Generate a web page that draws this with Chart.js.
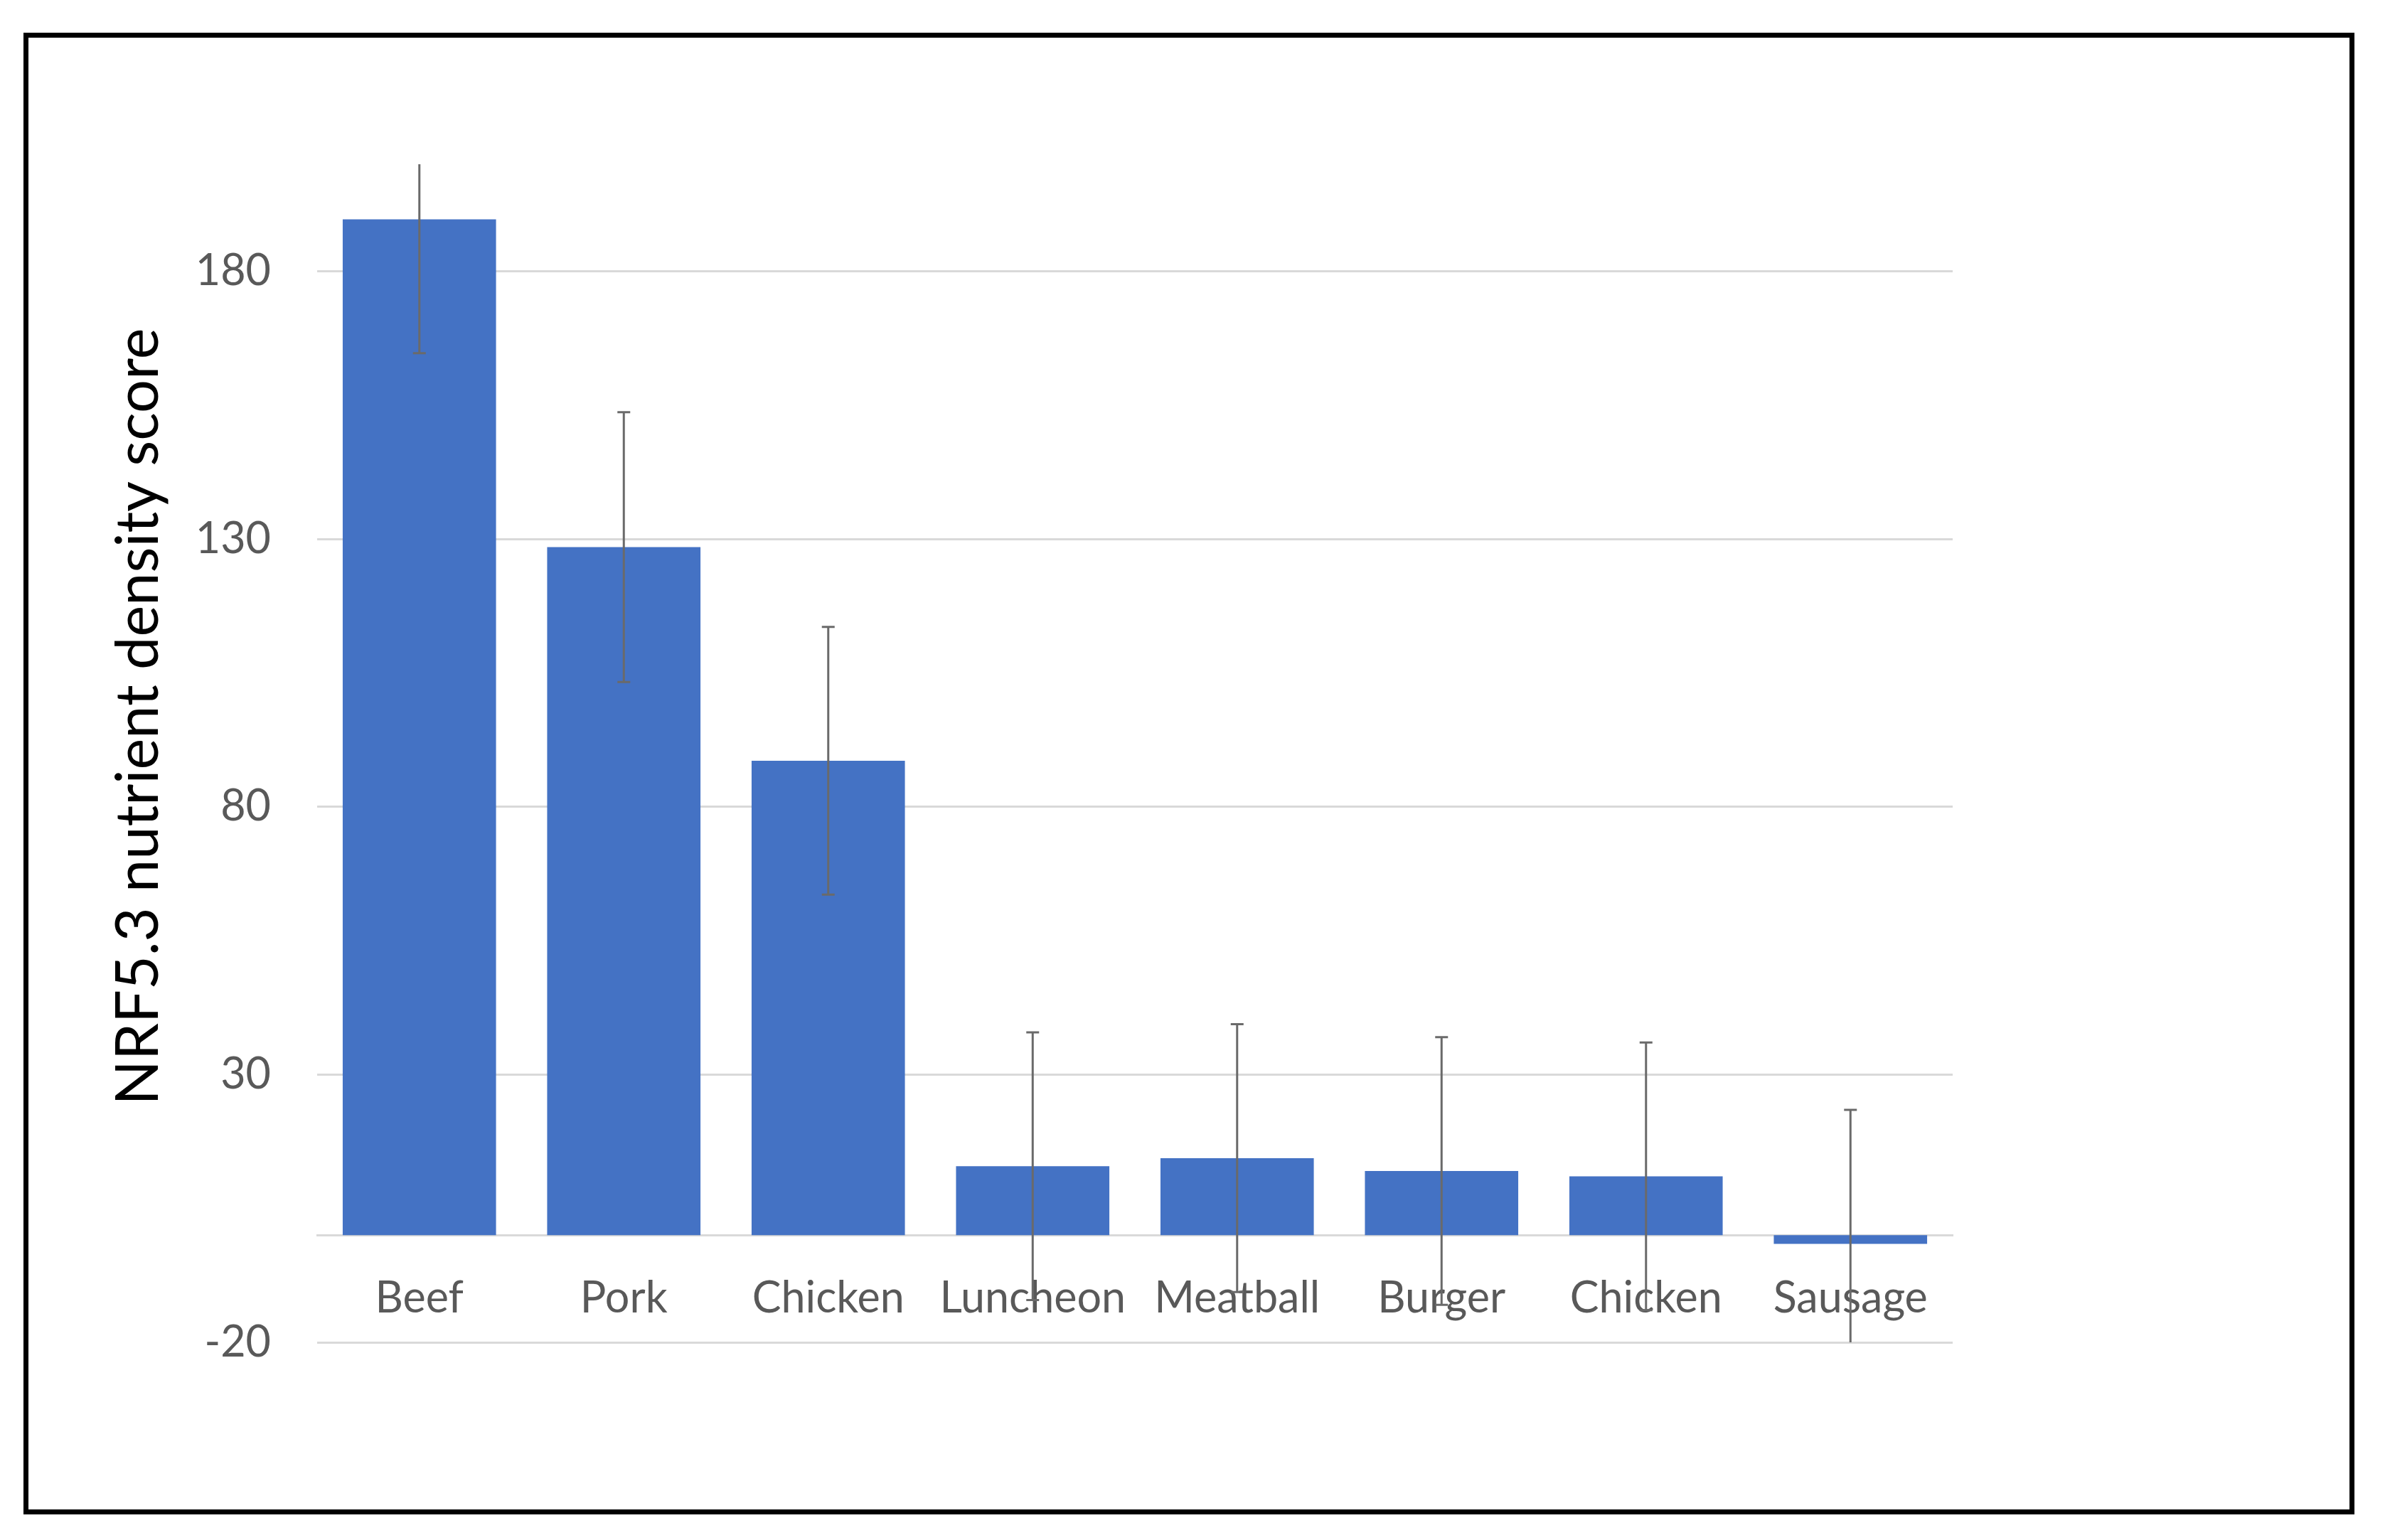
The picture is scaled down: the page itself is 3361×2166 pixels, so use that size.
<!DOCTYPE html>
<html>
<head>
<meta charset="utf-8">
<title>NRF5.3 nutrient density score</title>
<script src="https://cdn.jsdelivr.net/npm/chart.js@4.4.1/dist/chart.umd.min.js"></script>
<style>
  html, body { margin: 0; padding: 0; background: #fff; }
  #wrap { position: relative; width: 3361px; height: 2166px; }
  #frame {
    position: absolute; left: 33px; top: 46px; width: 3278px; height: 2084px;
    border: 7px solid #000; box-sizing: border-box; pointer-events: none;
  }
  canvas { position: absolute; left: 0; top: 0; }
</style>
</head>
<body>
<div id="wrap">
  <canvas id="nrfChart" width="3361" height="2166"></canvas>
  <div id="frame"></div>
</div>
<script>
// ---- DATA ----
const CATEGORIES = ['Beef', 'Pork', 'Chicken', 'Luncheon', 'Meatball', 'Burger', 'Chicken', 'Sausage'];
const SCORES = [189.7, 128.5, 88.6, 12.9, 14.4, 12.0, 11.0, -1.6];
const ERRORS = [25, 25.2, 25, 25, 25, 25, 25, 25];
const Y_TICKS = [-20, 30, 80, 130, 180];
const Y_MIN = -20;
const Y_MAX = 200;
const Y_TITLE = 'NRF5.3 nutrient density score';

// ---- DEFAULTS ----
Chart.defaults.font.family = "Lato, 'Open Sans', sans-serif";
Chart.defaults.color = '#595959';

// error bars, clipped to the plot like Excel does (no cap where clipped)
const errorBars = {
    id: 'errorBars',
    afterDraw(chart) {
        const { ctx } = chart;
        const y = chart.scales.y;
        const meta = chart.getDatasetMeta(0);
        ctx.save();
        ctx.strokeStyle = '#6a6a6a';
        ctx.lineWidth = 3;
        meta.data.forEach((bar, i) => {
            const hi = SCORES[i] + ERRORS[i];
            const lo = SCORES[i] - ERRORS[i];
            const top = y.getPixelForValue(Math.min(hi, y.max));
            const bot = y.getPixelForValue(Math.max(lo, y.min));
            const cap = 9;
            ctx.beginPath();
            ctx.moveTo(bar.x, top);
            ctx.lineTo(bar.x, bot);
            if (hi <= y.max) { ctx.moveTo(bar.x - cap, top); ctx.lineTo(bar.x + cap, top); }
            if (lo >= y.min) { ctx.moveTo(bar.x - cap, bot); ctx.lineTo(bar.x + cap, bot); }
            ctx.stroke();
        });
        ctx.restore();
    }
};

// rotated y-axis title (placed like the original, a bit above the plot centre)
const yTitle = {
    id: 'yTitle',
    afterDraw(chart) {
        const { ctx } = chart;
        ctx.save();
        ctx.translate(222, 1008);
        ctx.rotate(-Math.PI / 2);
        ctx.font = "83px Lato, 'Open Sans', sans-serif";
        ctx.fillStyle = '#000';
        ctx.textAlign = 'center';
        ctx.textBaseline = 'alphabetic';
        ctx.fillText(Y_TITLE, 0, 0);
        ctx.restore();
    }
};

new Chart(document.getElementById('nrfChart'), {
    type: 'bar',
    data: {
        labels: CATEGORIES,
        datasets: [{
            label: 'NRF5.3',
            data: SCORES,
            backgroundColor: '#4472C4',
            borderWidth: 0,
            categoryPercentage: 1,
            barPercentage: 0.75
        }]
    },
    options: {
        responsive: false,
        animation: false,
        devicePixelRatio: 1,
        layout: { padding: { left: 0, top: 231, right: 615, bottom: 278 } },
        plugins: {
            legend: { display: false },
            tooltip: { enabled: false }
        },
        scales: {
            x: {
                position: { y: 0 },
                afterFit: s => { s.height = 0; },
                grid: { display: false, drawTicks: false },
                border: { display: true, color: '#D9D9D9', width: 3 },
                ticks: {
                    color: '#595959',
                    font: { size: 61 },
                    padding: 52,
                    maxRotation: 0,
                    autoSkip: false
                }
            },
            y: {
                min: Y_MIN,
                max: Y_MAX,
                afterBuildTicks: s => { s.ticks = Y_TICKS.map(v => ({ value: v })); },
                afterFit: s => { s.width = 446; },
                grid: { color: '#D9D9D9', lineWidth: 3, drawTicks: false },
                border: { display: false },
                ticks: {
                    color: '#595959',
                    font: { size: 61 },
                    padding: 65
                }
            }
        }
    },
    plugins: [errorBars, yTitle]
});
</script>
</body>
</html>
